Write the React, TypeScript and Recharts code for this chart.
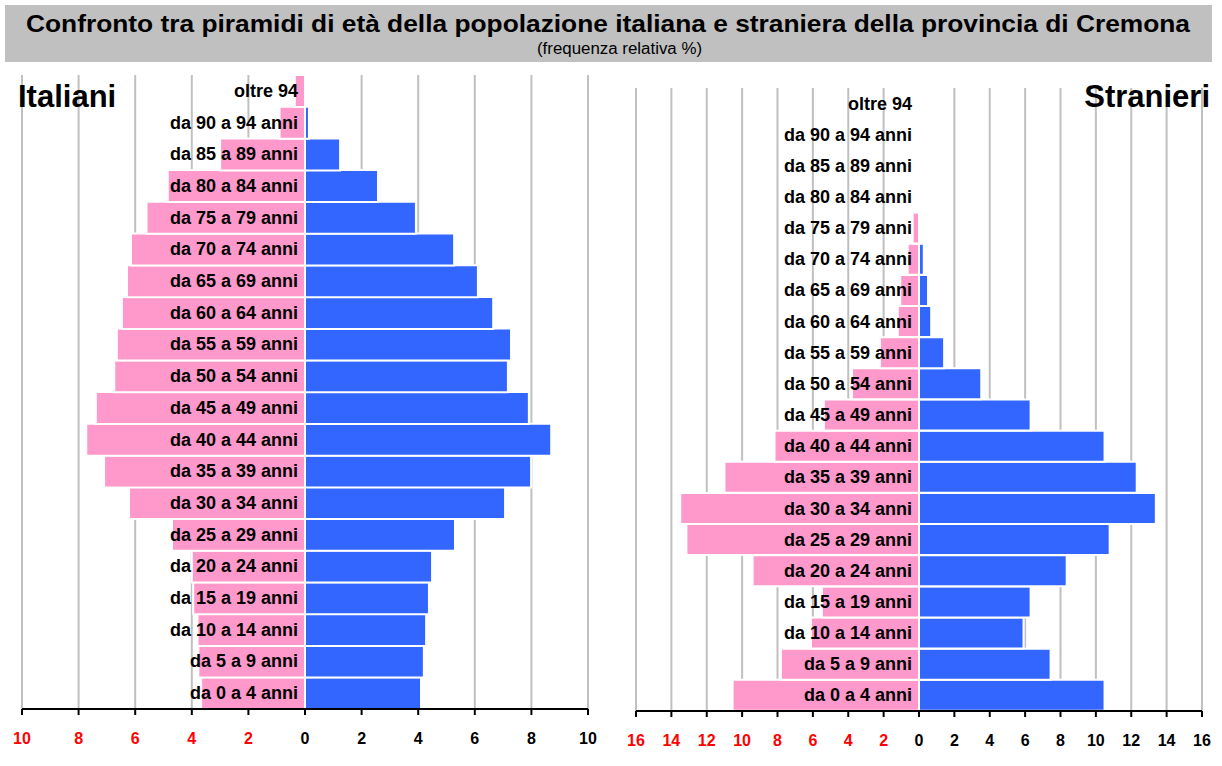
import React from 'react';
import { BarChart, Bar, XAxis, YAxis, CartesianGrid } from 'recharts';

const AGE_GROUPS = [
  'da 0 a 4 anni',
  'da 5 a 9 anni',
  'da 10 a 14 anni',
  'da 15 a 19 anni',
  'da 20 a 24 anni',
  'da 25 a 29 anni',
  'da 30 a 34 anni',
  'da 35 a 39 anni',
  'da 40 a 44 anni',
  'da 45 a 49 anni',
  'da 50 a 54 anni',
  'da 55 a 59 anni',
  'da 60 a 64 anni',
  'da 65 a 69 anni',
  'da 70 a 74 anni',
  'da 75 a 79 anni',
  'da 80 a 84 anni',
  'da 85 a 89 anni',
  'da 90 a 94 anni',
  'oltre 94',
];

// frequenza relativa %, femmine (rosa, a sinistra) e maschi (blu, a destra)
const ITALIANI_FEMMINE = [
  3.67, 3.77, 3.8, 3.95, 4.0, 4.7, 6.22, 7.1, 7.73, 7.39,
  6.74, 6.65, 6.47, 6.29, 6.15, 5.6, 4.85, 3.0, 0.9, 0.36,
];
const ITALIANI_MASCHI = [
  4.1, 4.2, 4.28, 4.38, 4.49, 5.3, 7.07, 7.99, 8.7, 7.91,
  7.17, 7.28, 6.65, 6.11, 5.27, 3.92, 2.58, 1.24, 0.14, 0,
];

const STRANIERI_FEMMINE = [
  10.54, 7.81, 6.11, 5.49, 9.41, 13.15, 13.5, 11.0, 8.17, 5.38,
  3.79, 2.21, 1.2, 1.06, 0.64, 0.36, 0.05, 0, 0, 0,
];
const STRANIERI_MASCHI = [
  10.49, 7.44, 5.91, 6.31, 8.35, 10.78, 13.39, 12.31, 10.49, 6.31,
  3.52, 1.42, 0.69, 0.51, 0.27, 0.06, 0, 0, 0, 0,
];

const ITALIANI_TICKS = [-10, -8, -6, -4, -2, 0, 2, 4, 6, 8, 10];
const STRANIERI_TICKS = [-16, -14, -12, -10, -8, -6, -4, -2, 0, 2, 4, 6, 8, 10, 12, 14, 16];

const TITLE = 'Confronto tra piramidi di età della popolazione italiana e straniera della provincia di Cremona';
const SUBTITLE = '(frequenza relativa %)';

const FONT = '"Liberation Sans", Arial, sans-serif';
const PINK = '#FF99CC';
const BLUE = '#3366FF';
const GRID = '#C0C0C0';

function buildRows(femmine: number[], maschi: number[]) {
  return AGE_GROUPS.map((age, i) => ({
    age,
    femmine: -femmine[i],
    maschi: maschi[i],
  }));
}

function AxisTick(props: any) {
  const { x, y, payload } = props;
  const v = payload.value as number;
  return (
    <text
      x={x}
      y={y + 27}
      textAnchor="middle"
      fontFamily={FONT}
      fontWeight="bold"
      fontSize={16}
      fill={v < 0 ? '#FF0000' : '#000'}
    >
      {Math.abs(v)}
    </text>
  );
}

// etichette delle classi d'età, allineate a destra sullo zero
function AgeTick(props: any) {
  const { y, payload, zeroX } = props;
  return (
    <text
      x={zeroX - 7}
      y={y}
      dy={6}
      textAnchor="end"
      fontFamily={FONT}
      fontWeight="bold"
      fontSize={18}
      fill="#000"
    >
      {payload.value}
    </text>
  );
}

interface PyramidProps {
  femmine: number[];
  maschi: number[];
  ticks: number[];
  width: number;
  margin: { top: number; right: number; bottom: number; left: number };
}

function Pyramid({ femmine, maschi, ticks, width, margin }: PyramidProps) {
  const rows = buildRows(femmine, maschi);
  const max = ticks[ticks.length - 1];
  const zeroX = margin.left + (width - margin.left - margin.right) / 2;
  // lo strato delle etichette ha un asse Y largo 1px: si toglie dal margine
  const labelMargin = { ...margin, left: margin.left - 1 };
  return (
    <div style={{ position: 'relative', width, height: 766 }}>
      <div style={{ position: 'absolute', left: 0, top: 0 }}>
        <BarChart
          width={width}
          height={766}
          data={rows}
          layout="vertical"
          stackOffset="sign"
          barCategoryGap={0}
          margin={margin}
        >
          <CartesianGrid
            horizontal={false}
            stroke={GRID}
            strokeWidth={2}
            verticalValues={ticks.filter((t) => t !== 0)}
          />
          <XAxis
            type="number"
            domain={[-max, max]}
            ticks={ticks}
            height={30}
            axisLine={{ stroke: '#000', strokeWidth: 2 }}
            tickLine={{ stroke: '#000', strokeWidth: 2 }}
            tickSize={6}
            tick={<AxisTick />}
            interval={0}
          />
          <YAxis type="category" dataKey="age" reversed hide />
          <Bar
            dataKey="femmine"
            stackId="p"
            fill={PINK}
            stroke="#fff"
            strokeWidth={2}
            isAnimationActive={false}
          />
          <Bar
            dataKey="maschi"
            stackId="p"
            fill={BLUE}
            stroke="#fff"
            strokeWidth={2}
            isAnimationActive={false}
          />
        </BarChart>
      </div>
      {/* secondo strato con le sole etichette, sopra le barre */}
      <div style={{ position: 'absolute', left: 0, top: 0, pointerEvents: 'none' }}>
        <BarChart
          width={width}
          height={766}
          data={rows}
          layout="vertical"
          stackOffset="sign"
          margin={labelMargin}
        >
          <XAxis
            type="number"
            domain={[-max, max]}
            height={30}
            axisLine={false}
            tickLine={false}
            tick={false}
          />
          <YAxis
            type="category"
            dataKey="age"
            reversed
            width={1}
            axisLine={false}
            tickLine={false}
            interval={0}
            tick={<AgeTick zeroX={zeroX} />}
          />
          <Bar dataKey="maschi" stackId="p" fill="none" isAnimationActive={false} />
        </BarChart>
      </div>
    </div>
  );
}

export default function App() {
  return (
    <div
      style={{
        position: 'absolute',
        left: 0,
        top: 0,
        width: 1222,
        height: 766,
        background: '#fff',
      }}
    >
      <div style={{ position: 'absolute', left: 0, top: 0 }}>
        <Pyramid
          femmine={ITALIANI_FEMMINE}
          maschi={ITALIANI_MASCHI}
          ticks={ITALIANI_TICKS}
          width={610}
          margin={{ top: 75, right: 22, bottom: 27, left: 22 }}
        />
      </div>
      <div style={{ position: 'absolute', left: 610, top: 0 }}>
        <Pyramid
          femmine={STRANIERI_FEMMINE}
          maschi={STRANIERI_MASCHI}
          ticks={STRANIERI_TICKS}
          width={612}
          margin={{ top: 88, right: 20, bottom: 25, left: 26 }}
        />
      </div>
      <svg
        width={1222}
        height={766}
        style={{ position: 'absolute', left: 0, top: 0, pointerEvents: 'none' }}
        fontFamily={FONT}
      >
        <rect x={5} y={5} width={1207} height={57} fill={GRID} />
        <text
          x={608}
          y={32}
          textAnchor="middle"
          fontWeight="bold"
          fontSize={24}
          textLength={1164}
          lengthAdjust="spacingAndGlyphs"
        >
          {TITLE}
        </text>
        <text
          x={619.5}
          y={54}
          textAnchor="middle"
          fontSize={16}
          textLength={165}
          lengthAdjust="spacingAndGlyphs"
        >
          {SUBTITLE}
        </text>
        <text x={18} y={107} fontWeight="bold" fontSize={31}>
          Italiani
        </text>
        <text x={1210} y={107} textAnchor="end" fontWeight="bold" fontSize={31}>
          Stranieri
        </text>
      </svg>
    </div>
  );
}
